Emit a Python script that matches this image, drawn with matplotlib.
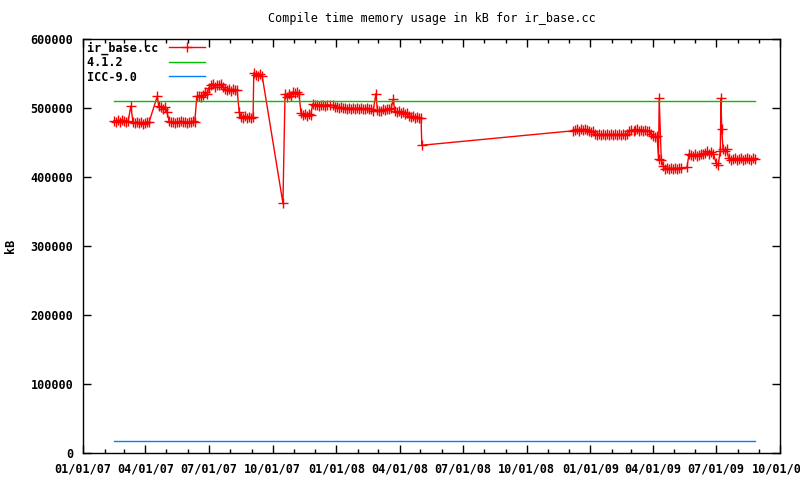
import pandas as pd
import matplotlib
matplotlib.use("Agg")
import matplotlib.pyplot as plt
import matplotlib.dates as mdates
from matplotlib.ticker import MultipleLocator, FuncFormatter

# ir_base.cc runs: days since 2007-01-01 and memory in kB
run_day = [
    45, 48, 50, 53, 56, 59, 62, 65, 69, 72, 75, 78, 81, 84, 86, 89, 92, 95,
    107, 109, 112, 115, 118, 121,
    124, 127, 130, 132, 135, 138, 141, 144, 147, 150, 153, 156, 158, 161,
    164, 167, 170, 173, 176, 179, 181, 184, 187, 190, 193, 196, 199, 202,
    205, 207, 210, 213, 216, 219, 222,
    225, 228, 230, 233, 236, 239, 242, 245,
    246, 249, 252, 255, 258, 288,
    291, 294, 297, 300, 302, 305, 308, 311,
    314, 317, 320, 323, 325, 328,
    331, 334, 337, 340, 343, 346, 349, 351, 356, 360,
    363, 366, 369, 372, 374, 377, 380, 383, 386, 389, 392, 395, 398, 400,
    403, 406, 409, 412, 415, 418, 422,
    424, 426, 429, 432, 435, 438, 441, 444, 447,
    449, 452, 455, 458, 461, 464, 467,
    470, 472, 475, 478, 481, 484, 487, 488,
    706, 709, 712, 714, 717, 720, 723, 726, 729, 732, 735, 738, 741, 743,
    746, 749, 752, 755, 758, 761, 764, 766, 769, 772, 775, 778, 781, 784,
    787, 790, 793, 795, 798, 801, 804, 807, 810, 813, 816, 818, 821, 824,
    827, 829, 830, 833, 836, 838, 841, 844, 847, 850, 853, 856, 859, 862,
    870, 873, 876, 879, 882, 884, 887, 890, 893, 896, 899, 902, 905, 908,
    912, 915, 918, 919, 920, 922, 925, 927, 930, 933, 936, 939, 942, 945,
    948, 951, 953, 956, 959, 962, 965, 968,
]
run_kb = [
    481, 479, 482, 480, 483, 481, 480, 481, 503, 479, 478, 480, 478, 479, 477, 478, 480, 479,
    517, 503, 501, 499, 501, 494,
    481, 479, 480, 478, 480, 479, 481, 479, 480, 478, 480, 479, 481, 480,
    517, 518, 516, 519, 523, 521, 529, 533, 535, 531, 534, 533, 535, 530,
    527, 526, 528, 525, 527, 526, 526,
    494, 487, 486, 488, 486, 487, 485, 487,
    551, 548, 546, 549, 547, 362,
    520, 516, 521, 518, 523, 522, 523, 521,
    493, 490, 491, 489, 492, 490,
    506, 504, 505, 503, 505, 504, 503, 505, 504, 504,
    501, 502, 500, 501, 500, 500, 499, 500, 499, 500, 498, 500, 499, 500,
    498, 499, 500, 499, 498, 496, 521,
    497, 495, 496, 498, 497, 499, 498, 500, 513,
    496, 494, 495, 493, 494, 492, 493,
    489, 487, 488, 486, 487, 486, 485, 446,
    467, 468, 469, 467, 469, 468, 469, 468, 467, 465, 466, 462, 461, 462,
    461, 462, 461, 462, 461, 462, 461, 462, 461, 462, 461, 462, 461, 463,
    467, 468, 467, 468, 469, 467, 468, 467, 468, 467, 466, 462, 460, 458,
    459, 426, 514, 424, 416, 411, 413, 412, 413, 412, 413, 412, 413, 413,
    414, 434, 432, 431, 433, 430, 432, 434, 433, 435, 437, 433, 436, 434,
    420, 418, 438, 514, 470, 440, 438, 440, 427, 425, 426, 427, 425, 426,
    427, 425, 426, 427, 426, 425, 427, 426,
]
# reference compilers (flat lines over the same span)
ref_day = [45, 968]
gcc412_kb = [510, 510]
icc90_kb = [17, 17]
series_names = ["ir_base.cc", "4.1.2", "ICC-9.0"]

start = pd.Timestamp("2007-01-01")
run_dates = start + pd.to_timedelta(run_day, unit="D")
ref_dates = start + pd.to_timedelta(ref_day, unit="D")

mono = "DejaVu Sans Mono"
plt.rcParams["font.family"] = mono

fig = plt.figure(figsize=(8, 4.8), dpi=100)
ax = fig.add_axes([0.10375, 0.05625, 0.87125, 0.8625])

# pad names to equal width so the key text lines up on the left (monospace)
labels = [n.ljust(11) for n in series_names]
ax.plot(run_dates, [v * 1000 for v in run_kb], color="#ff0000", lw=1,
        marker="+", ms=7, mew=1, label=labels[0])
ax.plot(ref_dates, [v * 1000 for v in gcc412_kb], color="#00c000", lw=1, label=labels[1])
ax.plot(ref_dates, [v * 1000 for v in icc90_kb], color="#0080ff", lw=1, label=labels[2])

ax.set_xlim(pd.Timestamp("2007-01-01"), pd.Timestamp("2009-10-01"))
ax.set_ylim(0, 600000)
ax.yaxis.set_major_locator(MultipleLocator(100000))
ax.yaxis.set_major_formatter(FuncFormatter(lambda v, p: f"{int(v)}"))
ax.xaxis.set_major_locator(mdates.MonthLocator(bymonth=[1, 4, 7, 10]))
ax.xaxis.set_minor_locator(mdates.MonthLocator())
ax.xaxis.set_major_formatter(mdates.DateFormatter("%m/%d/%y"))

ax.tick_params(which="both", direction="in", top=True, right=True,
               labelsize=8.5, width=1)
ax.tick_params(which="major", length=6)
ax.tick_params(which="minor", length=3)
ax.tick_params(axis="x", pad=7)
ax.tick_params(axis="y", pad=7)
for lab in ax.get_xticklabels() + ax.get_yticklabels():
    lab.set_fontweight("bold")
for sp in ax.spines.values():
    sp.set_linewidth(1)

ax.set_title("Compile time memory usage in kB for ir_base.cc", fontsize=8.5, pad=12)
ax.set_ylabel("kB", fontsize=8.5, labelpad=10, fontweight="bold")

leg = ax.legend(loc="upper left", markerfirst=False, frameon=False,
                prop={"family": mono, "size": 8.5, "weight": "bold"},
                handlelength=3.0, labelspacing=0.12, borderaxespad=0.0,
                borderpad=0.2, handletextpad=0.3,
                bbox_to_anchor=(0.003, 1.0))

fig.savefig("out.png", dpi=100)
